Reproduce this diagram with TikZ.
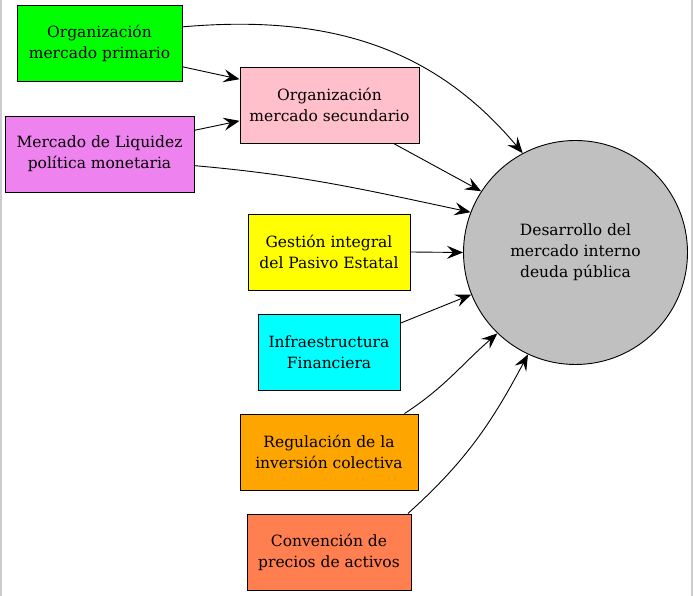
\documentclass[tikz,border=0pt]{standalone}
\usepackage{fontspec}
\setmainfont{DejaVu Serif}
\usepackage{tikz}
\usepackage{xcolor}
\usetikzlibrary{arrows.meta}
\definecolor{greenbox}{HTML}{00FF00}
\definecolor{pinkbox}{HTML}{FFC0CB}
\definecolor{violetbox}{HTML}{EE82EE}
\definecolor{yellowbox}{HTML}{FFFF00}
\definecolor{cyanbox}{HTML}{00FFFF}
\definecolor{orangebox}{HTML}{FFA500}
\definecolor{coralbox}{HTML}{FF7F50}
\definecolor{graycirc}{HTML}{C0C0C0}

\begin{document}
\begin{tikzpicture}[x=1pt, y=1pt,
    box/.style={draw, line width=0.9pt, align=center, minimum height=76pt, inner xsep=4pt,
        font=\fontsize{15.5}{21}\selectfont},
    arr/.style={line width=0.9pt, -{Stealth[length=16pt, width=13pt, inset=6pt]}}]
\useasboundingbox (0,0) rectangle (693,596);
\draw[gray!40, line width=1.5pt] (0.75,0) -- (0.75,596);
\draw[gray!40, line width=1.5pt] (692,0) -- (692,596);
% boxes
\node[box, fill=greenbox, minimum width=165pt] (prim) at (99.5,553) {Organización\\mercado primario};
\node[box, fill=pinkbox, minimum width=179pt] (secu) at (329.5,491) {Organización\\mercado secundario};
\node[box, fill=violetbox, minimum width=189pt] (liq) at (99.5,442) {Mercado de Liquidez\\política monetaria};
\node[box, fill=yellowbox, minimum width=162pt] (pasivo) at (329,344) {Gestión integral\\del Pasivo Estatal};
\node[box, fill=cyanbox, minimum width=142pt] (infra) at (329,244) {Infraestructura\\Financiera};
\node[box, fill=orangebox, minimum width=178pt] (regul) at (329,144) {Regulación de la\\inversión colectiva};
\node[box, fill=coralbox, minimum width=164pt] (conv) at (329,44) {Convención de\\precios de activos};
\node[draw, circle, line width=0.9pt, fill=graycirc, minimum size=224pt, align=center,
    font=\fontsize{15.5}{21}\selectfont] (deuda) at (575.5,343.5) {Desarrollo del\\mercado interno\\deuda pública};
% arrows
\draw[arr] (prim.-16) -- (secu.164);
\draw[arr] (liq.14) -- (secu.190);
\draw[arr] (prim.11) to[out=5, in=130] (deuda.118);
\draw[arr] (secu.-31) -- (deuda.147.5);
\draw[arr] (liq.-7) to[out=-5, in=168] (deuda.159);
\draw[arr] (pasivo.east) -- (deuda.west);
\draw[arr] (infra.22) -- (deuda.202);
\draw[arr] (regul.27.5) to[out=33, in=221] (deuda.226.5);
\draw[arr] (conv.26.6) to[out=42, in=242] (deuda.245);
\end{tikzpicture}
\end{document}
